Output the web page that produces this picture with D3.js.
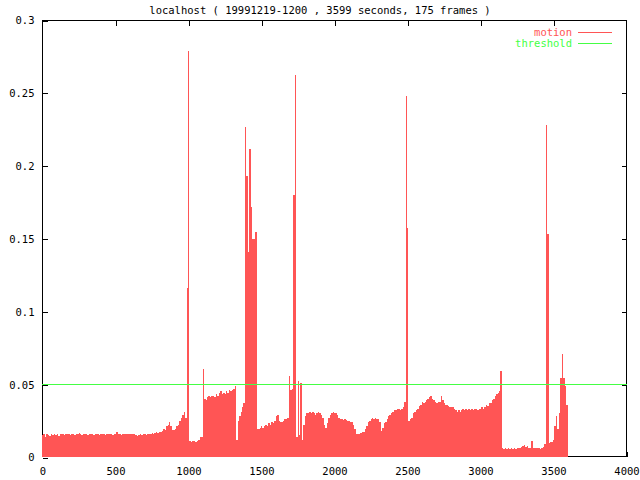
<!DOCTYPE html>
<html>
<head>
<meta charset="utf-8">
<script src="https://cdn.jsdelivr.net/npm/d3@7"></script>
<style>
  html, body { margin: 0; padding: 0; background: #fff; }
  svg { display: block; }
  text { font-family: "DejaVu Sans Mono", "Liberation Mono", monospace; font-size: 10.5px; }
</style>
</head>
<body>
<svg id="chart" width="640" height="480"></svg>
<script>
// ---- data ----
const titleText = "localhost ( 19991219-1200 , 3599 seconds, 175 frames )";
const sampleStep = 10; // seconds between samples
const motion = [
  0.015, 0.0155, 0.014, 0.0155, 0.015, 0.0145, 0.0155, 0.015, 0.016, 0.015,
  0.0155, 0.0145, 0.0155, 0.0155, 0.016, 0.015, 0.0155, 0.016, 0.0155, 0.015,
  0.016, 0.0155, 0.015, 0.016, 0.0155, 0.0165, 0.0155, 0.015, 0.016, 0.0155,
  0.016, 0.015, 0.0155, 0.016, 0.0155, 0.015, 0.016, 0.0155, 0.016, 0.015,
  0.0155, 0.016, 0.0155, 0.015, 0.016, 0.0155, 0.0155, 0.016, 0.015, 0.0155,
  0.016, 0.0175, 0.0155, 0.0155, 0.015, 0.0155, 0.0155, 0.0155, 0.0155, 0.0155,
  0.0155, 0.0155, 0.0155, 0.0155, 0.015, 0.0145, 0.015, 0.0155, 0.015, 0.0155,
  0.0155, 0.015, 0.016, 0.0155, 0.016, 0.0165, 0.016, 0.0165, 0.017, 0.0165,
  0.017, 0.0175, 0.018, 0.0195, 0.0185, 0.021, 0.022, 0.024, 0.021, 0.0185,
  0.0185, 0.019, 0.021, 0.022, 0.025, 0.027, 0.029, 0.031, 0.027, 0.116,
  0.279, 0.011, 0.0105, 0.011, 0.011, 0.0105, 0.011, 0.012, 0.0135, 0.014,
  0.0607, 0.040, 0.039, 0.041, 0.042, 0.041, 0.042, 0.042, 0.041, 0.043,
  0.042, 0.044, 0.045, 0.043, 0.044, 0.043, 0.045, 0.044, 0.046, 0.045,
  0.046, 0.047, 0.049, 0.012, 0.0245, 0.028, 0.031, 0.034, 0.037, 0.2265,
  0.193, 0.141, 0.2116, 0.1715, 0.1497, 0.15, 0.1547, 0.019, 0.019, 0.02,
  0.021, 0.02, 0.021, 0.022, 0.021, 0.023, 0.022, 0.024, 0.023, 0.025,
  0.028, 0.029, 0.025, 0.024, 0.024, 0.025, 0.026, 0.026, 0.027, 0.0556,
  0.046, 0.047, 0.18, 0.262, 0.014, 0.052, 0.015, 0.051, 0.012, 0.022,
  0.028, 0.030, 0.030, 0.031, 0.030, 0.031, 0.030, 0.029, 0.030, 0.031,
  0.030, 0.029, 0.027, 0.022, 0.020, 0.023, 0.027, 0.029, 0.030, 0.031,
  0.030, 0.030, 0.029, 0.027, 0.026, 0.026, 0.0255, 0.026, 0.0255, 0.025,
  0.025, 0.024, 0.024, 0.022, 0.019, 0.016, 0.0155, 0.016, 0.0165, 0.017,
  0.017, 0.019, 0.021, 0.024, 0.025, 0.026, 0.027, 0.026, 0.027, 0.026,
  0.026, 0.024, 0.018, 0.020, 0.023, 0.024, 0.026, 0.028, 0.029, 0.030,
  0.031, 0.032, 0.032, 0.033, 0.033, 0.032, 0.033, 0.034, 0.038, 0.248,
  0.157, 0.025, 0.026, 0.027, 0.030, 0.031, 0.032, 0.033, 0.035, 0.036,
  0.038, 0.037, 0.038, 0.039, 0.040, 0.041, 0.042, 0.040, 0.039, 0.038,
  0.037, 0.038, 0.038, 0.042, 0.039, 0.037, 0.036, 0.036, 0.035, 0.034,
  0.034, 0.034, 0.033, 0.032, 0.031, 0.032, 0.031, 0.032, 0.033, 0.032,
  0.033, 0.032, 0.033, 0.032, 0.033, 0.032, 0.033, 0.033, 0.032, 0.033,
  0.033, 0.034, 0.033, 0.034, 0.036, 0.035, 0.037, 0.037, 0.039, 0.040,
  0.042, 0.043, 0.044, 0.045, 0.059, 0.006, 0.0055, 0.006, 0.0055, 0.006,
  0.0055, 0.006, 0.0055, 0.006, 0.0055, 0.006, 0.0065, 0.006, 0.007, 0.0075,
  0.008, 0.007, 0.0075, 0.0065, 0.0065, 0.011, 0.006, 0.0065, 0.006, 0.006,
  0.006, 0.0055, 0.006, 0.007, 0.009, 0.2276, 0.153, 0.0098, 0.010, 0.0105,
  0.012, 0.021, 0.028, 0.019, 0.030, 0.0545, 0.0705, 0.054, 0.0487, 0.036
];
const threshold = 0.05;
const xTicks = [0, 500, 1000, 1500, 2000, 2500, 3000, 3500, 4000];
const yTicks = [0, 0.05, 0.1, 0.15, 0.2, 0.25, 0.3];
const seriesNames = ["motion", "threshold"];
const seriesColors = ["#ff5555", "#44ff44"];

// ---- layout ----
const svg = d3.select("#chart");
const L = 42, R = 626, T = 20, B = 457;
const x = d3.scaleLinear().domain([0, 4000]).range([L, R]);
const y = d3.scaleLinear().domain([0, 0.3]).range([B, T]);
const tickLen = 5;
const fontCss = '"DejaVu Sans Mono", "Liberation Mono", monospace';

const samples = motion.map((v, i) => ({ t: i * sampleStep, v }));

// frame
svg.append("rect")
  .attr("x", L + 0.5).attr("y", T + 0.5)
  .attr("width", R - L).attr("height", B - T - 1)
  .attr("fill", "none").attr("stroke", "#000").attr("stroke-width", 1)
  .attr("shape-rendering", "crispEdges");

function styleAxis(g) {
  g.select(".domain").remove();
  g.selectAll(".tick line").attr("stroke", "#000").attr("shape-rendering", "crispEdges");
  g.selectAll(".tick text").attr("fill", "#000").style("font-family", fontCss).style("font-size", "10.5px");
}

// bottom axis (inward ticks, labels)
const gB = svg.append("g").attr("transform", `translate(0.5,${B - 0.5})`)
  .call(d3.axisBottom(x).tickValues(xTicks).tickFormat(d3.format("d")).tickSizeInner(-tickLen).tickSizeOuter(0).tickPadding(tickLen + 6));
styleAxis(gB);
// top axis (mirror ticks)
const gT = svg.append("g").attr("transform", `translate(0.5,${T + 0.5})`)
  .call(d3.axisTop(x).tickValues(xTicks.slice(1, -1)).tickFormat("").tickSizeInner(-tickLen).tickSizeOuter(0));
styleAxis(gT);
// left axis
const gL = svg.append("g").attr("transform", `translate(${L + 0.5},0.5)`)
  .call(d3.axisLeft(y).tickValues(yTicks).tickFormat(d => String(+d.toFixed(2))).tickSizeInner(-tickLen).tickSizeOuter(0).tickPadding(tickLen + 3));
styleAxis(gL);
// right axis (mirror ticks)
const gR = svg.append("g").attr("transform", `translate(${R + 0.5},0.5)`)
  .call(d3.axisRight(y).tickValues(yTicks.slice(1, -1)).tickFormat("").tickSizeInner(-tickLen).tickSizeOuter(0));
styleAxis(gR);

// motion impulses
svg.append("g").attr("shape-rendering", "crispEdges")
  .selectAll("rect").data(samples).join("rect")
  .attr("x", d => x(d.t))
  .attr("width", d => x(d.t + sampleStep) - x(d.t))
  .attr("y", d => y(d.v))
  .attr("height", d => y(0) - y(d.v))
  .attr("fill", seriesColors[0]);

// threshold line
svg.append("line")
  .attr("x1", x(0)).attr("x2", x(4000) + 1)
  .attr("y1", Math.round(y(threshold)) + 0.5).attr("y2", Math.round(y(threshold)) + 0.5)
  .attr("stroke", seriesColors[1]).attr("stroke-width", 1)
  .attr("shape-rendering", "crispEdges");

// title
svg.append("text").attr("x", 320).attr("y", 14)
  .attr("text-anchor", "middle").attr("fill", "#000").text(titleText);

// legend
const key = svg.append("g");
seriesNames.forEach((name, i) => {
  const ky = 32 + i * 11;
  key.append("text").attr("x", 572).attr("y", ky + 3.5)
    .attr("text-anchor", "end").attr("fill", seriesColors[i]).text(name);
  key.append("line").attr("x1", 578).attr("x2", 612)
    .attr("y1", ky + 0.5).attr("y2", ky + 0.5)
    .attr("stroke", seriesColors[i]).attr("shape-rendering", "crispEdges");
});
</script>
</body>
</html>
